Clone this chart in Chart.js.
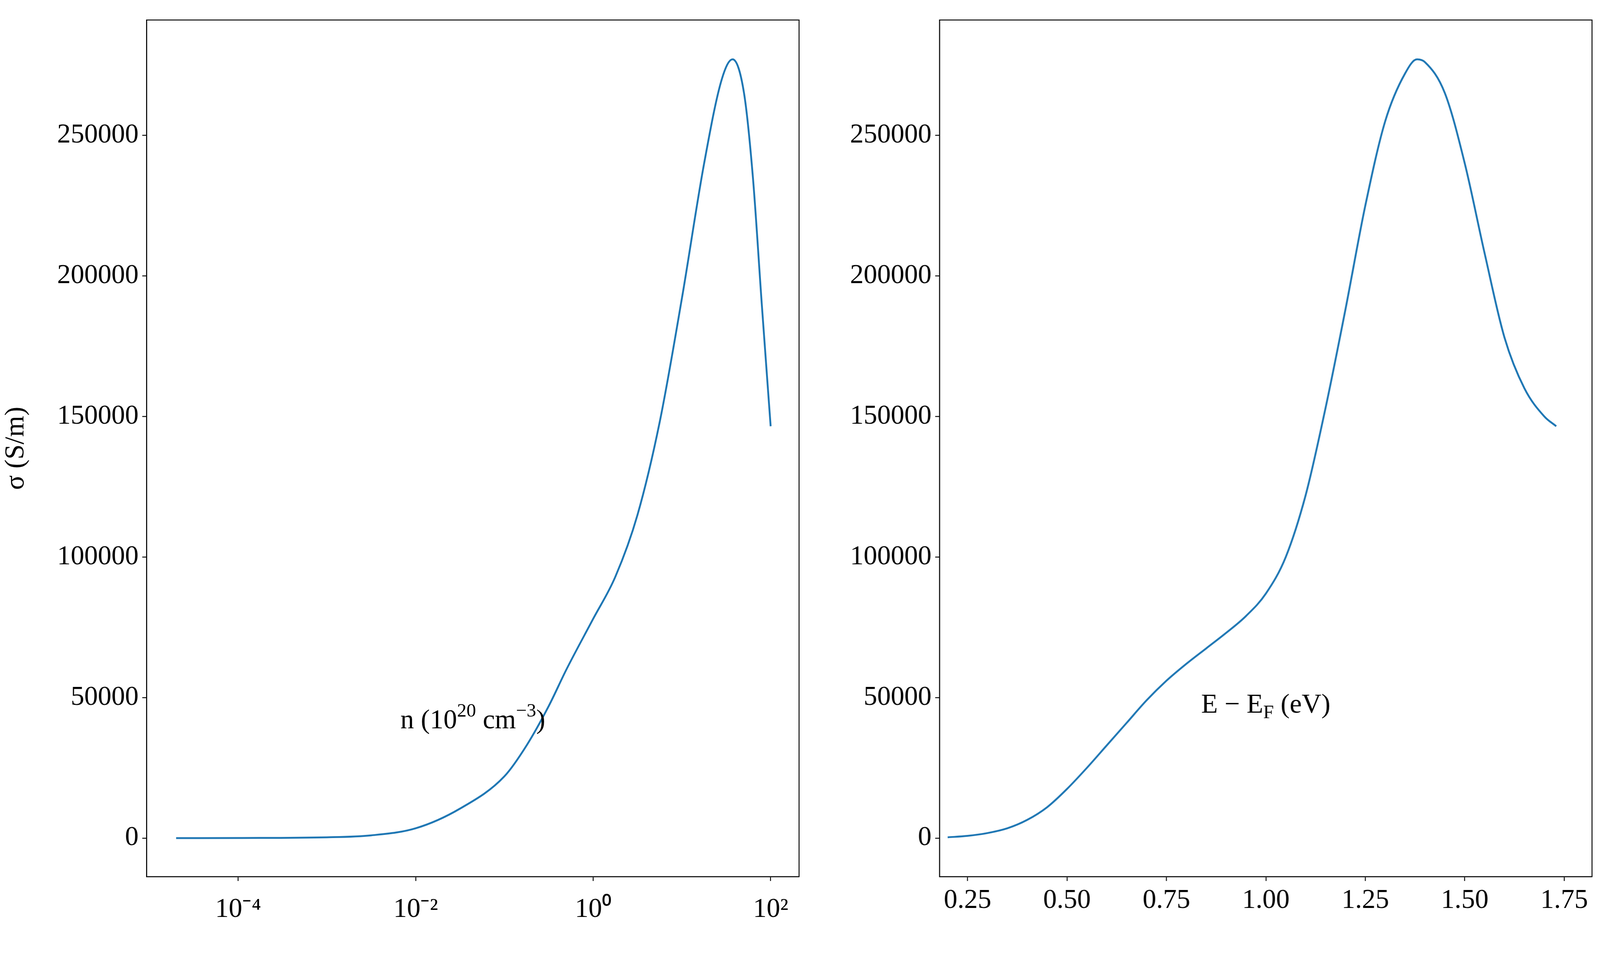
<!DOCTYPE html>
<html><head><meta charset="utf-8">
<script src="https://cdn.jsdelivr.net/npm/chart.js@4/dist/chart.umd.min.js"></script>
<style>
html,body{margin:0;padding:0;background:#fff;width:100vw;height:100vh;overflow:hidden}
.c{position:absolute;top:0}
</style></head><body>
<div class="c" id="d1"><canvas id="c1"></canvas></div>
<div class="c" id="d2"><canvas id="c2"></canvas></div>
<script>
// Left panel: carrier concentration n (10^20 cm^-3) vs sigma (S/m)
const nValues = [2e-5, 1e-4, 1e-3, 3.16e-3, 1e-2, 3.16e-2, 0.1, 0.178, 0.316, 0.5, 1.0, 1.78, 3.16, 5.62, 10, 17.8, 28.2, 37.2, 50.1, 63.1, 79.4, 100];
const sigmaN  = [0, 50, 300, 1000, 3500, 10500, 22000, 33000, 47000, 60000, 78000, 93000, 115000, 148000, 192000, 240000, 270000, 277000, 265000, 235000, 190000, 146500];
// Right panel: E - E_F (eV) vs sigma (S/m)
const eValues = [0.2, 0.25, 0.3, 0.35, 0.4, 0.45, 0.5, 0.55, 0.6, 0.65, 0.7, 0.75, 0.8, 0.85, 0.9, 0.95, 1.0, 1.05, 1.1, 1.15, 1.2, 1.25, 1.3, 1.35, 1.38, 1.4, 1.45, 1.5, 1.55, 1.6, 1.65, 1.7, 1.73];
const sigmaE  = [300, 800, 1800, 3500, 6500, 11000, 17500, 25000, 33000, 41000, 49000, 56000, 62000, 67500, 73000, 79000, 87000, 100000, 122000, 153000, 188000, 225000, 255000, 272000, 277000, 276000, 265000, 240000, 208000, 178000, 160000, 150000, 146500];
const yTicks = [0, 50000, 100000, 150000, 200000, 250000];
const logTickExps = [-4, -2, 0, 2];
const eTicks = [0.25, 0.50, 0.75, 1.00, 1.25, 1.50, 1.75];

const S = window.innerWidth/5184, SH = window.innerHeight/2489;
const px = v => v*S;
const d1=document.getElementById('d1'), d2=document.getElementById('d2');
d1.style.left='0px'; d1.style.width=px(2620)+'px'; d1.style.height=(2489*SH)+'px';
d2.style.left=px(2620)+'px'; d2.style.width=px(2564)+'px'; d2.style.height=(2489*SH)+'px';

const FONT = "'Liberation Serif','Times New Roman',serif";
const FS = px(88);
const sup = {'-':'⁻','0':'⁰','1':'¹','2':'²','3':'³','4':'⁴','5':'⁵','6':'⁶','7':'⁷','8':'⁸','9':'⁹'};
const toSup = s => String(s).split('').map(c=>sup[c]||c).join('');

function richText(ctx, parts, cx, cy){
  const w = parts.map(p=>{ctx.font = (p[1]?FS*0.7:FS)+'px '+FONT; return ctx.measureText(p[0]).width;});
  let x = cx - w.reduce((a,b)=>a+b,0)/2;
  ctx.textBaseline='alphabetic'; ctx.textAlign='left'; ctx.fillStyle='#000';
  parts.forEach((p,i)=>{ctx.font=(p[1]?FS*0.7:FS)+'px '+FONT;
    ctx.fillText(p[0], x, cy + (p[1]===1?-FS*0.42:p[1]===-1?FS*0.2:0)); x+=w[i];});
}
const framePlugin = id => ({id:'frame'+id, afterDraw(chart){
  const a=chart.chartArea, ctx=chart.ctx; ctx.save();
  ctx.strokeStyle='#000'; ctx.lineWidth=px(3); ctx.strokeRect(a.left,a.top,a.right-a.left,a.bottom-a.top);
  if(id===1) richText(ctx, [['n (10',0],['20',1],[' cm',0],['−3',1],[')',0]], (a.left+a.right)/2, px(2360));
  else richText(ctx, [['E − E',0],['F',-1],[' (eV)',0]], (a.left+a.right)/2, px(2310));
  ctx.restore();}});

function yScale(width, title){
  return {type:'linear', min:-13700, max:291000,
    afterBuildTicks:ax=>{ax.ticks=yTicks.map(v=>({value:v}));},
    afterFit:ax=>{ax.width=px(width);},
    ticks:{font:{family:FONT,size:FS},color:'#000',padding:px(12),callback:v=>String(v)},
    grid:{drawOnChartArea:false,drawTicks:true,tickLength:px(14),tickWidth:px(3),color:'#000'},
    border:{display:true,color:'#000',width:px(3)},
    title:{display:!!title,text:title,font:{family:FONT,size:FS},color:'#000',padding:{top:0,bottom:px(14)}}};
}
function xGrid(){return {drawOnChartArea:false,drawTicks:true,tickLength:px(14),tickWidth:px(3),color:'#000'};}
const common = {responsive:true,maintainAspectRatio:false,animation:false,
  plugins:{legend:{display:false},tooltip:{enabled:false}}};
const ds = (x,y)=>({data:x.map((v,i)=>({x:v,y:y[i]})),borderColor:'#1f77b4',borderWidth:px(6),pointRadius:0,fill:false,cubicInterpolationMode:'monotone'});

new Chart(document.getElementById('c1'),{type:'line',data:{datasets:[ds(nValues,sigmaN)]},
  plugins:[framePlugin(1)],
  options:{...common,layout:{padding:{top:px(33),right:px(31),left:0,bottom:0}},
    scales:{x:{type:'logarithmic',min:9.3e-6,max:209,
      afterBuildTicks:ax=>{ax.ticks=logTickExps.map(e=>({value:Math.pow(10,e)}));},
      afterFit:ax=>{ax.height=px(309);},
      ticks:{font:{family:FONT,size:FS},color:'#000',padding:px(40),maxRotation:0,autoSkip:false,
        callback:v=>'10'+toSup(Math.round(Math.log10(v)))},
      grid:xGrid(),border:{display:true,color:'#000',width:px(3)}},
      y:yScale(475,'σ (S/m)')}}});

new Chart(document.getElementById('c2'),{type:'line',data:{datasets:[ds(eValues,sigmaE)]},
  plugins:[framePlugin(2)],
  options:{...common,layout:{padding:{top:px(33),right:px(27),left:0,bottom:0}},
    scales:{x:{type:'linear',min:0.1795,max:1.82,
      afterBuildTicks:ax=>{ax.ticks=eTicks.map(v=>({value:v}));},
      afterFit:ax=>{ax.height=px(309);},
      ticks:{font:{family:FONT,size:FS},color:'#000',padding:px(12),maxRotation:0,autoSkip:false,
        callback:v=>v.toFixed(2)},
      grid:xGrid(),border:{display:true,color:'#000',width:px(3)}},
      y:yScale(424,'')}}});
</script></body></html>
